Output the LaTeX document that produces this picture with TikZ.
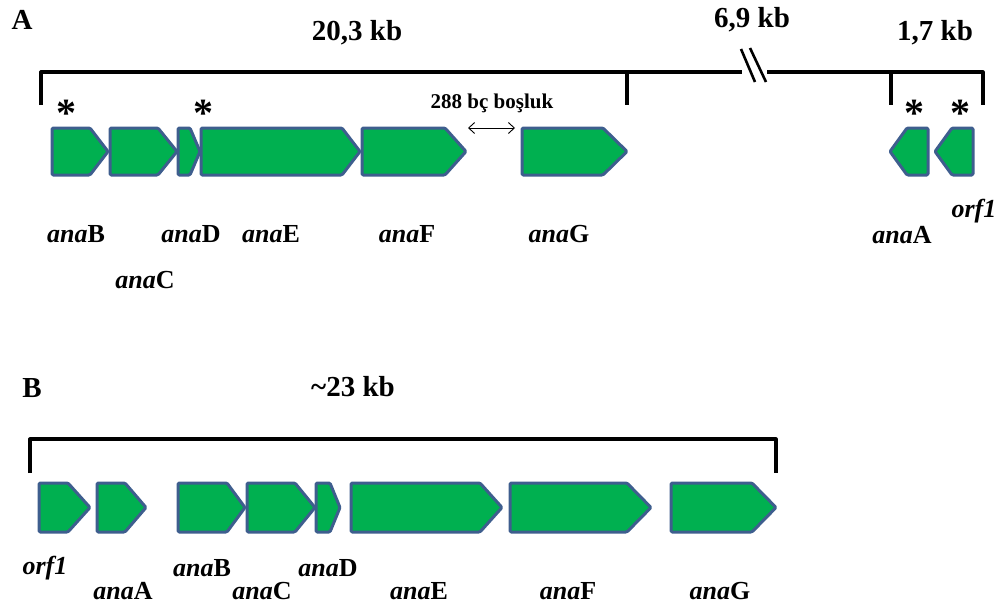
\documentclass[tikz,border=0pt]{standalone}
\usepackage{fontspec}
\setmainfont{Liberation Serif}
\usetikzlibrary{arrows.meta}
\definecolor{genefill}{RGB}{0,176,80}
\definecolor{geneedge}{RGB}{62,94,142}
\tikzset{
  gene/.style={fill=genefill, draw=geneedge, line width=3.0pt, line join=round, rounded corners=1.2pt},
  bracket/.style={line width=3.2pt, line join=round},
  bigtxt/.style={font=\bfseries\fontsize{29}{31}\selectfont, inner sep=0pt},
  genelab/.style={font=\bfseries\fontsize{26}{28}\selectfont, inner sep=0pt},
  smalltxt/.style={font=\bfseries\fontsize{21}{23}\selectfont, inner sep=0pt},
  star/.style={font=\bfseries\fontsize{40}{42}\selectfont, inner sep=0pt, anchor=north},
}
\newcommand\geneR[5]{\draw[gene] (#1,#4) -- (#2,#4) -- (#3,{(#4+#5)/2}) -- (#2,#5) -- (#1,#5) -- cycle;}
\newcommand\geneL[5]{\draw[gene] (#3,#4) -- (#2,#4) -- (#1,{(#4+#5)/2}) -- (#2,#5) -- (#3,#5) -- cycle;}
\newcommand\an{\textit{ana}}
\begin{document}
\begin{tikzpicture}[x=1pt,y=-1pt]
\useasboundingbox (0,0) rectangle (1003,608);
% ---------- Panel A ----------
\node[bigtxt] (labA) at (22,20) {A};
\node[bigtxt] (kbA1) at (357,33) {20,3 kb};
\node[bigtxt] (kbA2) at (752,20) {6,9 kb};
\node[bigtxt] (kbA3) at (935,33) {1,7 kb};
\draw[bracket] (41,105) -- (41,72) -- (742,72);
\draw[bracket] (627,72) -- (627,105);
\draw[bracket] (767,72) -- (983,72) -- (983,105);
\draw[bracket] (891,72) -- (891,105);
\draw[line width=2.6pt] (741,49) -- (755,82);
\draw[line width=2.6pt] (750,48) -- (766,82);
% genes A
\geneR{52}{90}{108}{128}{175}
\geneR{110}{158}{177}{128}{175}
\geneR{178}{190}{200}{128}{175}
\geneR{201}{342}{360}{128}{175}
\geneR{362}{445}{466}{128}{175}
\geneR{522}{603}{627}{128}{175}
\geneL{890}{907}{928}{128}{175}
\geneL{935}{952}{973}{128}{175}
% stars
\node[star] (s1) at (66,100) {*};
\node[star] (s2) at (203,100) {*};
\node[star] (s3) at (914,100) {*};
\node[star] (s4) at (960,100) {*};
% gap label
\node[smalltxt] (gap) at (492,103) {288 bç boşluk};
\coordinate (gl) at (468,128);
\coordinate (gr) at (515,128);
\draw[{Straight Barb[length=6pt,width=11pt]}-{Straight Barb[length=6pt,width=11pt]}, line width=0.9pt] (gl) -- (gr);
% labels A
\node[genelab] (aB) at (76,234) {\an B};
\node[genelab] (aC) at (145,280) {\an C};
\node[genelab] (aD) at (191,234) {\an D};
\node[genelab] (aE) at (271,234) {\an E};
\node[genelab] (aF) at (407,234) {\an F};
\node[genelab] (aG) at (559,234) {\an G};
\node[genelab] (aA) at (902,235) {\an A};
\node[genelab] (aO) at (974,211) {\textit{orf1}};
% ---------- Panel B ----------
\node[bigtxt] (labB) at (32,388) {B};
\node[bigtxt] (kbB) at (353,387) {\textasciitilde 23 kb};
\draw[bracket] (30,473) -- (30,439) -- (776,439) -- (776,473);
\geneR{39}{68}{90}{483}{532}
\geneR{97}{125}{146}{483}{532}
\geneR{178}{227}{245}{483}{532}
\geneR{247}{295}{315}{483}{532}
\geneR{316}{330}{340}{483}{532}
\geneR{351}{480}{502}{483}{532}
\geneR{510}{627}{651}{483}{532}
\geneR{671}{752}{776}{483}{532}
\node[genelab] (bO) at (45,568) {\textit{orf1}};
\node[genelab] (bA) at (123,591) {\an A};
\node[genelab] (bB) at (202,568) {\an B};
\node[genelab] (bC) at (262,591) {\an C};
\node[genelab] (bD) at (328,568) {\an D};
\node[genelab] (bE) at (419,591) {\an E};
\node[genelab] (bF) at (568,591) {\an F};
\node[genelab] (bG) at (720,591) {\an G};
\end{tikzpicture}
\end{document}
